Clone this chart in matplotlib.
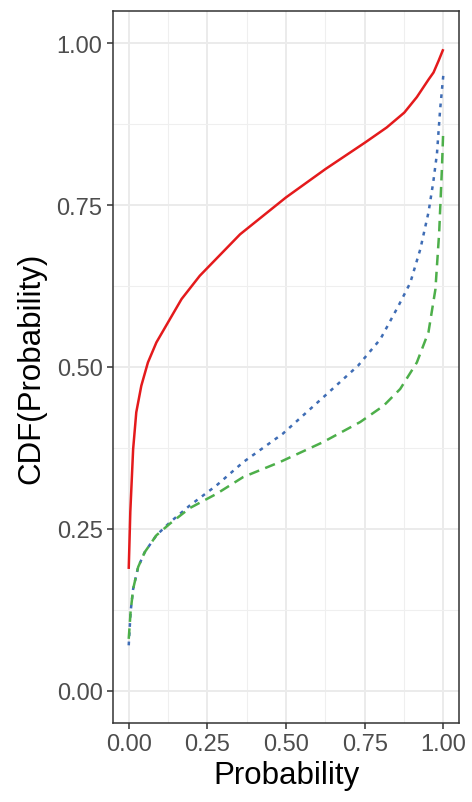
import matplotlib
matplotlib.use('Agg')
from matplotlib import pyplot as plt

# values
red_x = [0, 0.005, 0.014, 0.024, 0.04, 0.061, 0.088, 0.125, 0.168, 0.226, 0.354,
         0.5, 0.626, 0.752, 0.82, 0.876, 0.916, 0.953, 0.969, 0.985, 1.0]
red_y = [0.188, 0.276, 0.373, 0.43, 0.471, 0.507, 0.538, 0.569, 0.605, 0.641, 0.705,
         0.762, 0.806, 0.847, 0.87, 0.893, 0.917, 0.944, 0.955, 0.973, 0.991]

blue_x = [0, 0.006, 0.014, 0.03, 0.051, 0.088, 0.131, 0.194, 0.279, 0.364, 0.49,
          0.618, 0.729, 0.8, 0.857, 0.895, 0.927, 0.953, 0.968, 0.98, 0.99, 1.0]
blue_y = [0.07, 0.122, 0.157, 0.191, 0.214, 0.24, 0.26, 0.286, 0.317, 0.353, 0.397,
          0.453, 0.502, 0.543, 0.594, 0.63, 0.682, 0.739, 0.785, 0.83, 0.898, 0.95]

green_x = [0, 0.006, 0.014, 0.03, 0.051, 0.088, 0.131, 0.194, 0.279, 0.364, 0.48,
           0.618, 0.736, 0.81, 0.863, 0.916, 0.953, 0.975, 0.987, 0.996, 1.0]
green_y = [0.08, 0.122, 0.157, 0.191, 0.214, 0.24, 0.258, 0.282, 0.304, 0.33, 0.353,
           0.384, 0.415, 0.44, 0.466, 0.507, 0.554, 0.62, 0.708, 0.81, 0.867]

ticks = [0.0, 0.25, 0.5, 0.75, 1.0]
tick_labels = ['0.00', '0.25', '0.50', '0.75', '1.00']
minor_ticks = [0.125, 0.375, 0.625, 0.875]

plt.rcParams['font.family'] = ['Liberation Sans', 'DejaVu Sans']

fig = plt.figure(figsize=(4.72, 8.03), dpi=100)
ax = fig.add_axes([113 / 472, 79 / 803, 346 / 472, 712 / 803])

ax.plot(red_x, red_y, color='#E41A1C', linewidth=1.8, solid_capstyle='butt')
ax.plot(blue_x, blue_y, color='#3F6DB5', linewidth=1.8, dashes=(1.5, 2.2))
ax.plot(green_x, green_y, color='#4DAF4A', linewidth=1.8, dashes=(4.2, 2.6))

ax.set_xlim(-0.05, 1.05)
ax.set_ylim(-0.05, 1.05)
ax.set_xticks(ticks)
ax.set_xticklabels(tick_labels)
ax.set_yticks(ticks)
ax.set_yticklabels(tick_labels)
ax.set_xticks(minor_ticks, minor=True)
ax.set_yticks(minor_ticks, minor=True)

ax.grid(True, which='major', color='#EBEBEB', linewidth=1.4)
ax.grid(True, which='minor', color='#EFEFEF', linewidth=0.8)
ax.set_axisbelow(True)

ax.tick_params(which='major', length=4.5, width=1.1, color='#333333',
               labelsize=17, labelcolor='#4D4D4D', pad=3)
ax.tick_params(which='minor', length=0)
for sp in ax.spines.values():
    sp.set_color('#333333')
    sp.set_linewidth(1.1)

ax.set_xlabel('Probability', fontsize=22.5, color='black', labelpad=3)
ax.set_ylabel('CDF(Probability)', fontsize=22.5, color='black', labelpad=7)

fig.savefig('out.png', dpi=100, facecolor='white')
